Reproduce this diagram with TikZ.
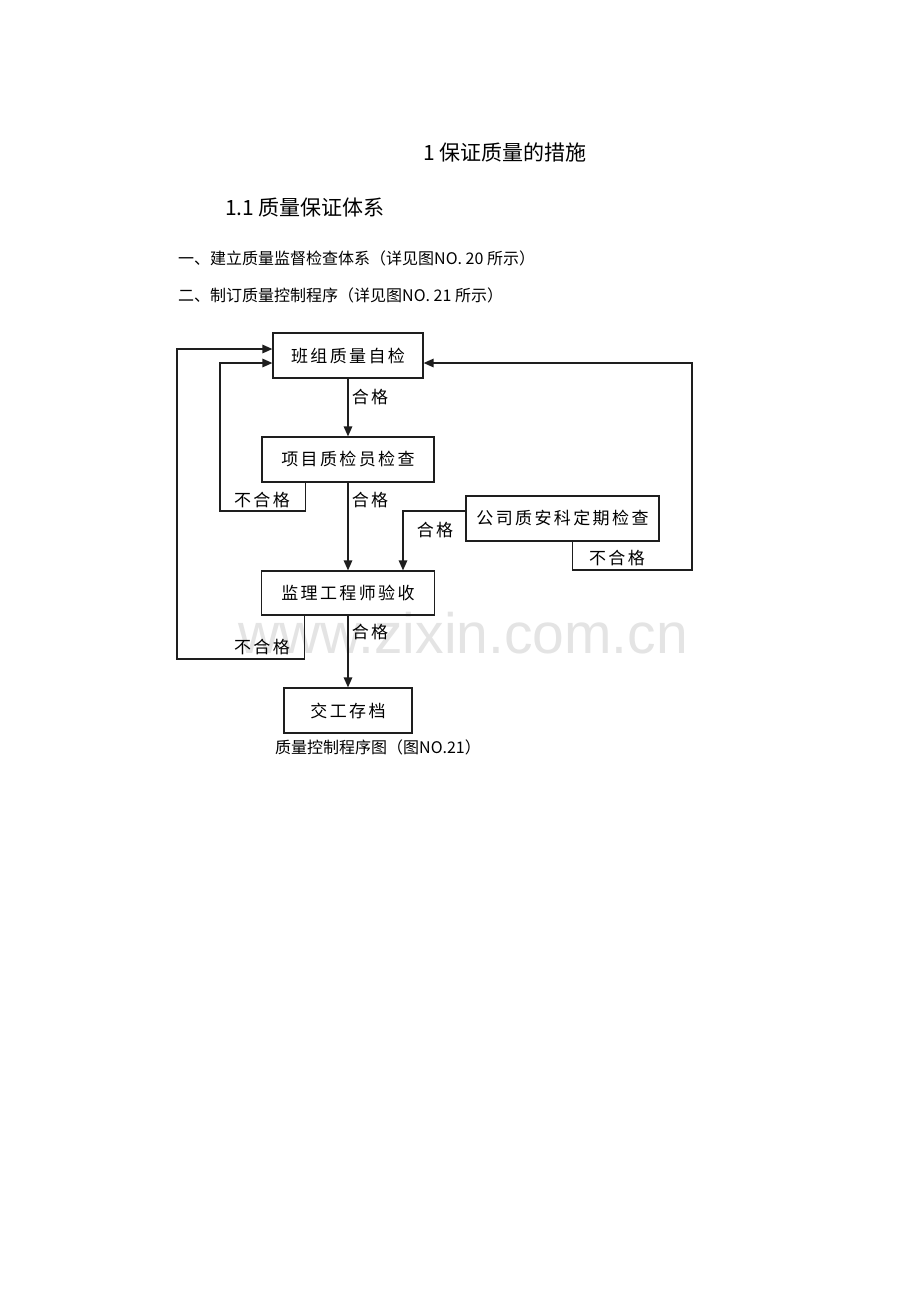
\documentclass[tikz,border=0pt]{standalone}
\usepackage{fontspec}
\setmainfont{Noto Sans CJK SC}
\newfontfamily\boxfont[LetterSpace=14]{Noto Sans CJK SC}
\newfontfamily\markfont{Liberation Sans}
\usetikzlibrary{arrows.meta}
\definecolor{linegray}{RGB}{30,30,30}
\definecolor{markgray}{RGB}{228,228,228}

\begin{document}
\begin{tikzpicture}[x=1pt, y=-1pt,
    stepbox/.style={draw=linegray, line width=1.2pt, minimum height=45pt, inner sep=0pt, font=\boxfont\fontsize{17}{19}\selectfont},
    flow/.style={draw=linegray, line width=1.4pt},
    arrow/.style={flow, -{Triangle[length=10pt, width=8.5pt]}},
    tag/.style={font=\boxfont\fontsize{17}{19}\selectfont, inner sep=0pt},
    heading/.style={font=\fontsize{21}{24}\selectfont, inner sep=0pt},
    textline/.style={font=\fontsize{16}{18}\selectfont, inner sep=0pt, anchor=west}]
    \useasboundingbox[fill=white] (0,0) rectangle (920,1302);

    % Watermark
    \node[font=\markfont\fontsize{57}{60}\selectfont, text=markgray, anchor=base west, inner sep=0pt] (mark) at (238,653) {www.zixin.com.cn};

    % Headings
    \node[heading] (title) at (505,152) {1 保证质量的措施};
    \node[heading] (subtitle) at (305,208) {1.1 质量保证体系};
    \node[textline] (itemA) at (178,258) {一、建立质量监督检查体系（详见图NO. 20 所示）};
    \node[textline] (itemB) at (178,295) {二、制订质量控制程序（详见图NO. 21 所示）};

    % Boxes
    \node[stepbox, minimum width=150pt] (team) at (348,355.5) {班组质量自检};
    \node[stepbox, minimum width=172pt] (project) at (348,459.5) {项目质检员检查};
    \node[stepbox, minimum width=193pt] (company) at (562.5,518.5) {公司质安科定期检查};
    \node[stepbox, minimum width=173pt, minimum height=44pt] (supervisor) at (348,593) {监理工程师验收};
    \node[stepbox, minimum width=128pt] (archive) at (348,710.5) {交工存档};
    \node[textline] (caption) at (275,747) {质量控制程序图（图NO.21）};

    % Loop corners
    \coordinate (innerL) at (220,511);
    \coordinate (outerL) at (177,659);
    \coordinate (compL) at (403,511);
    \coordinate (rightR) at (692,570);

    % Pass
    \draw[arrow] (team) -- (project);
    \draw[arrow] (project) -- (supervisor);
    \draw[arrow] (supervisor) -- (archive);
    \draw[arrow] (company.west |- compL) -- (compL) -- (compL |- supervisor.north);

    % Fail
    \draw[arrow] ([xshift=44pt]project.south west) |- (innerL) |- ([yshift=-7.5pt]team.west);
    \draw[arrow] ([xshift=43.5pt]supervisor.south west) |- (outerL) |- ([yshift=6.5pt]team.west);
    \draw[arrow] ([xshift=107pt]company.south west) |- (rightR) |- ([yshift=-7.5pt]team.east);

    % Labels
    \node[tag] (passA) at (370,397) {合格};
    \node[tag] (passB) at (370,500) {合格};
    \node[tag] (passC) at (435,530) {合格};
    \node[tag] (passD) at (370,632) {合格};
    \node[tag] (failA) at (262,500) {不合格};
    \node[tag] (failB) at (262,647) {不合格};
    \node[tag] (failC) at (617,558) {不合格};
\end{tikzpicture}
\end{document}
